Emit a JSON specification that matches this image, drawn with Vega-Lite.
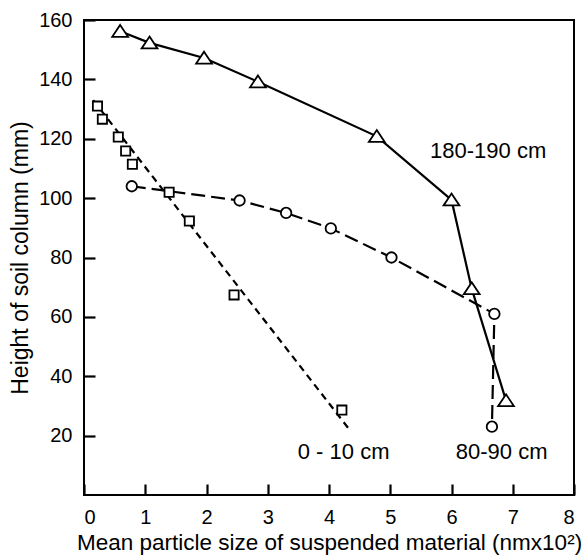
{
  "$schema": "https://vega.github.io/schema/vega-lite/v6.json",
  "width": 490,
  "height": 475,
  "autosize": {"type": "none"},
  "padding": {"left": 84, "top": 20, "right": 14, "bottom": 63},
  "background": "white",
  "config": {
    "font": "Liberation Sans",
    "view": {"stroke": "black", "strokeWidth": 2},
    "axis": {
      "grid": false,
      "domain": false,
      "labelFont": "Liberation Sans",
      "labelFontSize": 20,
      "labelColor": "black",
      "titleFont": "Liberation Sans",
      "titleFontWeight": "normal",
      "titleColor": "black"
    }
  },
  "datasets": {
    "tri": [
      {"x": 0.59, "y": 156.2},
      {"x": 1.07, "y": 152.3},
      {"x": 1.96, "y": 147.2},
      {"x": 2.84, "y": 139.2},
      {"x": 4.78, "y": 120.8},
      {"x": 6.0, "y": 99.4},
      {"x": 6.33, "y": 69.5},
      {"x": 6.89, "y": 31.8}
    ],
    "circ": [
      {"i": 1, "x": 0.78, "y": 104.0},
      {"i": 2, "x": 2.54, "y": 99.2},
      {"i": 3, "x": 3.3, "y": 95.0},
      {"i": 4, "x": 4.03, "y": 89.8},
      {"i": 5, "x": 5.02, "y": 80.0},
      {"i": 6, "x": 6.7, "y": 61.0},
      {"i": 7, "x": 6.66, "y": 23.0}
    ],
    "sq": [
      {"x": 0.22, "y": 131.0},
      {"x": 0.3, "y": 126.6},
      {"x": 0.56, "y": 120.6},
      {"x": 0.68, "y": 115.9},
      {"x": 0.79, "y": 111.4},
      {"x": 1.39, "y": 102.0},
      {"x": 1.72, "y": 92.3},
      {"x": 2.45, "y": 67.4},
      {"x": 4.21, "y": 28.6}
    ],
    "sqfit": [
      {"x": 0.15, "y": 133.0},
      {"x": 4.35, "y": 21.6}
    ],
    "xticks": [{"x": 1}, {"x": 2}, {"x": 3}, {"x": 4}, {"x": 5}, {"x": 6}, {"x": 7}],
    "yticks": [{"y": 20}, {"y": 40}, {"y": 60}, {"y": 80}, {"y": 100}, {"y": 120}, {"y": 140}],
    "labels": [
      {"x": 5.65, "y": 116.0, "label": "180-190 cm"},
      {"x": 3.49, "y": 14.5, "label": "0 - 10 cm"},
      {"x": 6.07, "y": 14.5, "label": "80-90 cm"}
    ]
  },
  "encoding": {
    "x": {
      "field": "x",
      "type": "quantitative",
      "scale": {"domain": [0, 8], "nice": false},
      "axis": {
        "values": [0, 1, 2, 3, 4, 5, 6, 7, 8],
        "ticks": true,
        "tickColor": "black",
        "tickWidth": 2.2,
        "tickSize": 11,
        "offset": -11,
        "title": "Mean particle size of suspended material (nmx10²)",
        "titleFontSize": 22.5,
        "titlePadding": 4,
        "labelPadding": 12
      }
    },
    "y": {
      "field": "y",
      "type": "quantitative",
      "scale": {"domain": [0, 160], "nice": false},
      "axis": {
        "values": [20, 40, 60, 80, 100, 120, 140, 160],
        "ticks": true,
        "tickColor": "black",
        "tickWidth": 2.2,
        "tickSize": 11,
        "offset": -11,
        "title": "Height of soil column (mm)",
        "titleFontSize": 23,
        "titlePadding": 6,
        "labelPadding": 12
      }
    }
  },
  "layer": [
    {
      "data": {"name": "xticks"},
      "mark": {"type": "tick", "orient": "vertical", "size": 11, "thickness": 2.2, "color": "black", "opacity": 1},
      "encoding": {
        "y": {"datum": 1.85, "type": "quantitative"}
      }
    },
    {
      "data": {"name": "yticks"},
      "mark": {"type": "tick", "orient": "horizontal", "size": 11, "thickness": 2.2, "color": "black", "opacity": 1},
      "encoding": {
        "x": {"datum": 0.09, "type": "quantitative"}
      }
    },
    {
      "data": {"name": "tri"},
      "mark": {"type": "line", "color": "black", "strokeWidth": 2.2}
    },
    {
      "data": {"name": "circ"},
      "mark": {"type": "line", "color": "black", "strokeWidth": 2.2, "strokeDash": [14, 6]},
      "encoding": {"order": {"field": "i", "type": "quantitative"}}
    },
    {
      "data": {"name": "sqfit"},
      "mark": {"type": "line", "color": "black", "strokeWidth": 2.2, "strokeDash": [7, 5]}
    },
    {
      "data": {"name": "tri"},
      "mark": {"type": "point", "shape": "M0,-0.8L1,0.7L-1,0.7Z", "size": 250, "filled": true, "fill": "white", "stroke": "black", "strokeWidth": 1.8, "opacity": 1}
    },
    {
      "data": {"name": "circ"},
      "mark": {"type": "point", "shape": "circle", "size": 110, "filled": true, "fill": "white", "stroke": "black", "strokeWidth": 1.8, "opacity": 1}
    },
    {
      "data": {"name": "sq"},
      "mark": {"type": "point", "shape": "square", "size": 85, "filled": true, "fill": "white", "stroke": "black", "strokeWidth": 1.8, "opacity": 1}
    },
    {
      "data": {"name": "labels"},
      "mark": {"type": "text", "align": "left", "baseline": "middle", "fontSize": 22, "font": "Liberation Sans", "color": "black"},
      "encoding": {"text": {"field": "label", "type": "nominal"}}
    }
  ]
}
